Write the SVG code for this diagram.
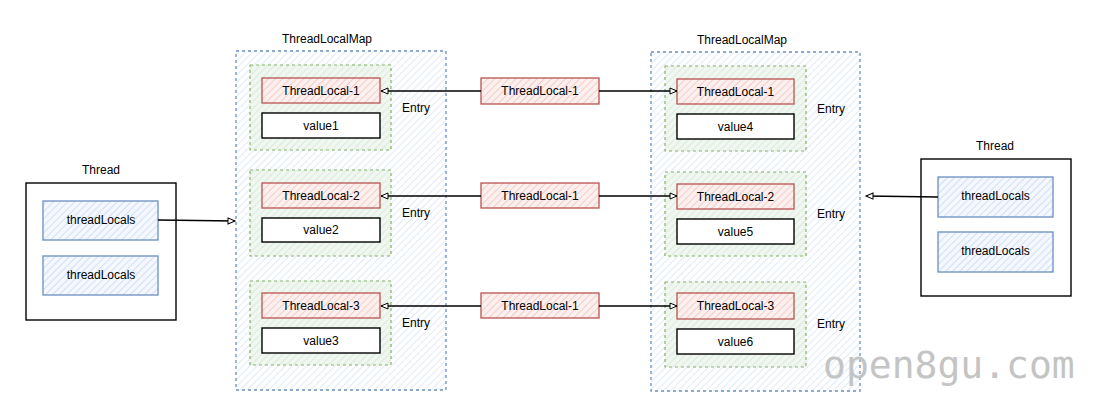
<svg xmlns="http://www.w3.org/2000/svg" width="1096" height="417" viewBox="0 0 1096 417">
<style>
text{font-family:"Liberation Sans",Arial,sans-serif;font-size:12px;fill:#000;}
.c{text-anchor:middle;dominant-baseline:central;}
.l{dominant-baseline:central;}
.map{fill:url(#hb);stroke:#6c8ebf;stroke-width:1.3;stroke-dasharray:3 3;}
.entry{fill:url(#hg);stroke:#82b366;stroke-width:1.2;stroke-dasharray:3 3;}
.tl{fill:url(#hr);stroke:#b85450;stroke-width:1.3;}
.val{fill:#fff;stroke:#000;stroke-width:1.4;}
.thr{fill:#fff;stroke:#000;stroke-width:1.4;}
.loc{fill:url(#hb2);stroke:#6c8ebf;stroke-width:1.3;}
.edge{fill:none;stroke:#000;stroke-width:1.5;}
.wm{font-family:"DejaVu Sans Mono","Liberation Mono",monospace;font-size:38px;fill:#c4c4c4;}
</style>
<defs>
<pattern id="hb" width="5" height="5" patternUnits="userSpaceOnUse" patternTransform="rotate(45)"><rect width="5" height="5" fill="#fff"/><line x1="0" y1="0" x2="0" y2="5" stroke="#d6e4f8" stroke-width="1.5"/></pattern>
<pattern id="hb2" width="5" height="5" patternUnits="userSpaceOnUse" patternTransform="rotate(45)"><rect width="5" height="5" fill="#f4f8fe"/><line x1="0" y1="0" x2="0" y2="5" stroke="#c6d8f2" stroke-width="1.5"/></pattern>
<pattern id="hg" width="5" height="5" patternUnits="userSpaceOnUse" patternTransform="rotate(45)"><rect width="5" height="5" fill="#f0f6f0"/><line x1="0" y1="0" x2="0" y2="5" stroke="#d5e8d4" stroke-width="1.5"/></pattern>
<pattern id="hr" width="5" height="5" patternUnits="userSpaceOnUse" patternTransform="rotate(45)"><rect width="5" height="5" fill="#fcf0ef"/><line x1="0" y1="0" x2="0" y2="5" stroke="#f2c0bd" stroke-width="1.5"/></pattern>
<marker id="arr" markerWidth="10" markerHeight="10" refX="8" refY="4" orient="auto" markerUnits="userSpaceOnUse"><path d="M1,1 L8,4 L1,7 Z" fill="#fff" stroke="#000" stroke-width="1"/></marker>
</defs>

<g id="leftThread">
<text class="c" x="101" y="170">Thread</text>
<rect class="thr" x="26" y="183" width="150" height="137"/>
<g id="leftTL1"><rect class="loc" x="43" y="201" width="115" height="39"/><text class="c" x="101" y="220">threadLocals</text></g>
<g id="leftTL2"><rect class="loc" x="43" y="256" width="115" height="39"/><text class="c" x="101" y="275">threadLocals</text></g>
</g>

<g id="leftMap">
<text class="c" x="327" y="39">ThreadLocalMap</text>
<rect class="map" x="236" y="51" width="210" height="339"/>
<g id="leftEntry1">
<rect class="entry" x="250" y="65" width="141" height="85"/>
<rect class="tl" x="262" y="78" width="118" height="25"/><text class="c" x="321" y="90.5">ThreadLocal-1</text>
<rect class="val" x="262" y="113" width="118" height="25"/><text class="c" x="321" y="125.5">value1</text>
<text class="l" x="402" y="108">Entry</text>
</g>
<g id="leftEntry2">
<rect class="entry" x="250" y="170" width="141" height="86"/>
<rect class="tl" x="262" y="183" width="118" height="25"/><text class="c" x="321" y="195.5">ThreadLocal-2</text>
<rect class="val" x="262" y="218" width="118" height="24"/><text class="c" x="321" y="230">value2</text>
<text class="l" x="402" y="213">Entry</text>
</g>
<g id="leftEntry3">
<rect class="entry" x="250" y="281" width="141" height="84"/>
<rect class="tl" x="262" y="293" width="118" height="25"/><text class="c" x="321" y="305.5">ThreadLocal-3</text>
<rect class="val" x="262" y="328" width="118" height="25"/><text class="c" x="321" y="340.5">value3</text>
<text class="l" x="402" y="323">Entry</text>
</g>
</g>

<g id="mid1"><rect class="tl" x="481" y="78" width="118" height="26"/><text class="c" x="540" y="91">ThreadLocal-1</text></g>
<g id="mid2"><rect class="tl" x="481" y="183" width="118" height="25"/><text class="c" x="540" y="195.5">ThreadLocal-1</text></g>
<g id="mid3"><rect class="tl" x="481" y="293" width="118" height="25"/><text class="c" x="540" y="305.5">ThreadLocal-1</text></g>

<g id="rightMap">
<text class="c" x="742" y="40">ThreadLocalMap</text>
<rect class="map" x="651" y="52" width="209" height="339"/>
<g id="rightEntry1">
<rect class="entry" x="665" y="66" width="141" height="85"/>
<rect class="tl" x="677" y="79" width="117" height="25"/><text class="c" x="735.5" y="91.5">ThreadLocal-1</text>
<rect class="val" x="677" y="114" width="117" height="25"/><text class="c" x="735.5" y="126.5">value4</text>
<text class="l" x="817" y="109">Entry</text>
</g>
<g id="rightEntry2">
<rect class="entry" x="665" y="172" width="141" height="84"/>
<rect class="tl" x="677" y="184" width="117" height="25"/><text class="c" x="735.5" y="196.5">ThreadLocal-2</text>
<rect class="val" x="677" y="219" width="117" height="25"/><text class="c" x="735.5" y="231.5">value5</text>
<text class="l" x="817" y="214">Entry</text>
</g>
<g id="rightEntry3">
<rect class="entry" x="665" y="282" width="141" height="85"/>
<rect class="tl" x="677" y="293" width="117" height="26"/><text class="c" x="735.5" y="306">ThreadLocal-3</text>
<rect class="val" x="677" y="329" width="117" height="25"/><text class="c" x="735.5" y="341.5">value6</text>
<text class="l" x="817" y="324">Entry</text>
</g>
</g>

<g id="rightThread">
<text class="c" x="995" y="146">Thread</text>
<rect class="thr" x="921" y="159" width="150" height="137"/>
<g id="rightTL1"><rect class="loc" x="938" y="177" width="115" height="40"/><text class="c" x="995.5" y="196">threadLocals</text></g>
<g id="rightTL2"><rect class="loc" x="938" y="232" width="115" height="40"/><text class="c" x="995.5" y="251">threadLocals</text></g>
</g>

<g id="connectors">
<path class="edge" d="M158,220 L235,221" marker-end="url(#arr)"/>
<path class="edge" d="M481,91 L381,91" marker-end="url(#arr)"/>
<path class="edge" d="M599,91 L677,91" marker-end="url(#arr)"/>
<path class="edge" d="M481,196 L381,196" marker-end="url(#arr)"/>
<path class="edge" d="M599,196 L677,196" marker-end="url(#arr)"/>
<path class="edge" d="M481,306 L381,306" marker-end="url(#arr)"/>
<path class="edge" d="M599,306 L677,306" marker-end="url(#arr)"/>
<path class="edge" d="M938,197 L866,196" marker-end="url(#arr)"/>
</g>

<text class="wm" x="823" y="378">open8gu.com</text>
</svg>
